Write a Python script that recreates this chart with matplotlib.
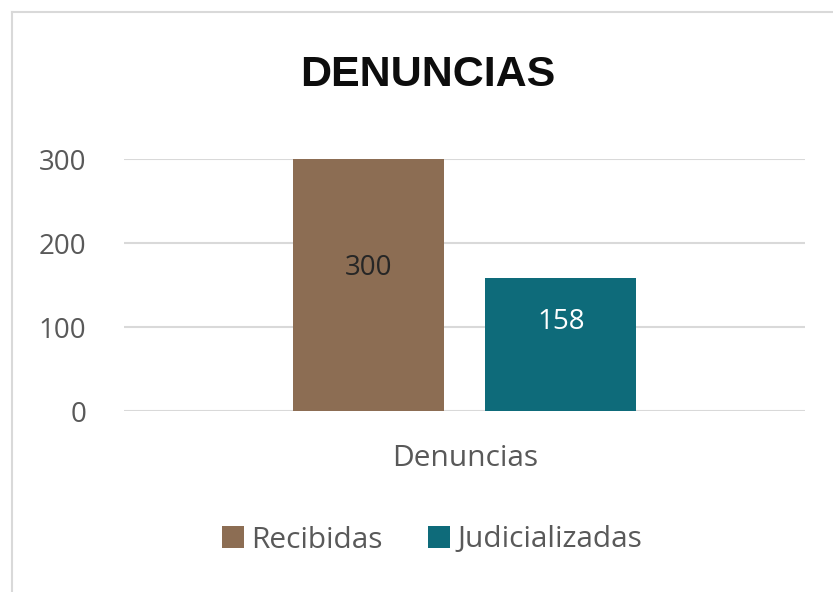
import matplotlib.pyplot as plt
from matplotlib.lines import Line2D

# data
category = "Denuncias"
series = ["Recibidas", "Judicializadas"]
values = [300, 158]
colors = ["#8C6D53", "#0E6B7A"]
label_colors = ["#262626", "#FFFFFF"]
yticks = [0, 100, 200, 300]

W, H = 833, 592
fig = plt.figure(figsize=(W / 100, H / 100), dpi=100)
ax = fig.add_axes([124 / W, 1 - 411 / H, (805 - 124) / W, (411 - 159) / H])

width = 0.222
offsets = [-0.141, 0.1415]
label_frac = [0.567, 0.67]  # where Excel put the value labels inside the bars
for name, v, c, lc, off, lf in zip(series, values, colors, label_colors, offsets, label_frac):
    ax.bar(off, v, width=width, color=c, label=name, zorder=3)
    ax.text(off, v * lf, f"{v}", ha="center", va="center",
            fontsize=20, color=lc, family="Open Sans", zorder=4)

ax.set_xlim(-0.5, 0.5)
ax.set_ylim(0, 300)
ax.set_yticks(yticks)
ax.set_yticklabels([str(t) for t in yticks], fontsize=20, color="#595959",
                   family="Open Sans")
ax.tick_params(axis="y", length=0, pad=27)
ax.set_xticks([])
ax.grid(axis="y", color="#D9D9D9", lw=1.5, zorder=0)
ax.set_axisbelow(True)
for s in ax.spines.values():
    s.set_visible(False)

fig.text(465 / W, 1 - 458 / H, category, ha="center", va="center",
         fontsize=21.5, color="#595959", family="Open Sans")
fig.text(428 / W, 1 - 75 / H, "DENUNCIAS", ha="center", va="center",
         fontsize=31, fontweight="bold", color="#0D0D0D", family="Liberation Sans")

leg = fig.legend(loc="center", bbox_to_anchor=(432 / W, 1 - 540 / H), ncol=2,
                 frameon=False, handlelength=0.75, handleheight=0.75,
                 handletextpad=0.25, columnspacing=1.5,
                 prop={"family": "Open Sans", "size": 21.5})
for t in leg.get_texts():
    t.set_color("#595959")

# chart border (left/top only visible)
fig.add_artist(Line2D([12 / W, 12 / W], [0, 1 - 12 / H], color="#D9D9D9", lw=1.5))
fig.add_artist(Line2D([12 / W, 1], [1 - 12 / H, 1 - 12 / H], color="#D9D9D9", lw=1.5))

fig.savefig("out.png", dpi=100, facecolor="white")
